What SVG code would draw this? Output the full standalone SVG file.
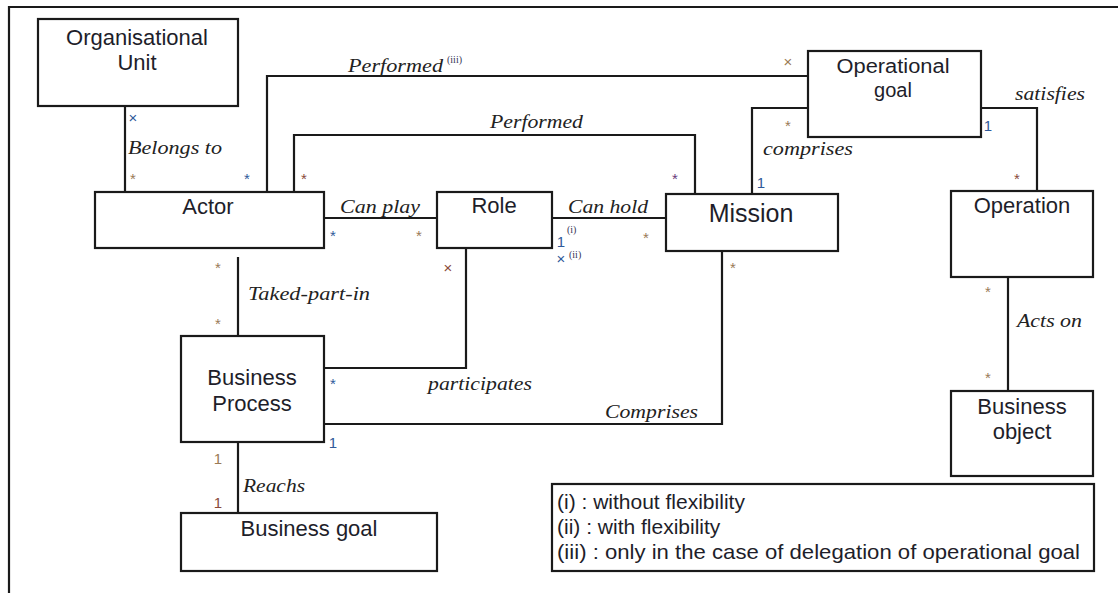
<svg xmlns="http://www.w3.org/2000/svg" width="1118" height="593" viewBox="0 0 1118 593">
  <style>
    .box { fill: #fff; stroke: #1a1a1a; stroke-width: 2.2; }
    .wire { fill: none; stroke: #1a1a1a; stroke-width: 2.2; }
    .name { font-family: "Liberation Sans", Arial, sans-serif; font-size: 22px; fill: #1e1e2a; text-anchor: middle; }
    .lbl { font-family: "Liberation Serif", "Times New Roman", serif; font-style: italic; font-size: 19px; fill: #222; }
    .sup { font-family: "Liberation Serif", "Times New Roman", serif; font-size: 10px; fill: #335; }
    .mk { font-family: "Liberation Sans", Arial, sans-serif; font-size: 15px; text-anchor: middle; }
    .o { fill: #9a7a55; }
    .b { fill: #2f5a9a; }
    .p { fill: #6a3a7a; }
    .r { fill: #8a4a3a; }
    .legend { font-family: "Liberation Sans", Arial, sans-serif; font-size: 21px; fill: #1e1e2a; }
  </style>

  <!-- page frame -->
  <path class="wire" d="M9,593 V7 H1118"/>

  <!-- associations -->
  <g id="connectors">
    <!-- Belongs to -->
    <line class="wire" x1="125" y1="106" x2="125" y2="192"/>
    <text class="lbl" x="128" y="154" textLength="94" lengthAdjust="spacingAndGlyphs">Belongs to</text>
    <text class="mk b" x="133" y="123">×</text>
    <text class="mk o" x="133" y="184">*</text>

    <!-- Performed (iii) : Actor to Operational goal -->
    <path class="wire" d="M267,192 V76 H808"/>
    <text class="lbl" x="348" y="72" textLength="95" lengthAdjust="spacingAndGlyphs">Performed</text>
    <text class="sup" x="447" y="63">(iii)</text>
    <text class="mk b" x="247" y="184">*</text>
    <text class="mk o" x="788" y="67">×</text>

    <!-- Performed : Actor to Mission -->
    <path class="wire" d="M294,192 V135 H695 V194"/>
    <text class="lbl" x="490" y="128" textLength="93" lengthAdjust="spacingAndGlyphs">Performed</text>
    <text class="mk r" x="304" y="184">*</text>
    <text class="mk p" x="675" y="184">*</text>

    <!-- Can play -->
    <line class="wire" x1="324" y1="218" x2="437" y2="218"/>
    <text class="lbl" x="340" y="213" textLength="80" lengthAdjust="spacingAndGlyphs">Can play</text>
    <text class="mk b" x="333" y="241">*</text>
    <text class="mk o" x="419" y="241">*</text>

    <!-- Can hold -->
    <line class="wire" x1="552" y1="218" x2="666" y2="218"/>
    <text class="lbl" x="568" y="213" textLength="80" lengthAdjust="spacingAndGlyphs">Can hold</text>
    <text class="mk b" x="561" y="247">1</text>
    <text class="sup" x="567" y="233">(i)</text>
    <text class="mk b" x="561" y="264">×</text>
    <text class="sup" x="569" y="258">(ii)</text>
    <text class="mk o" x="646" y="243">*</text>

    <!-- comprises : Operational goal to Mission -->
    <path class="wire" d="M808,108 H752 V194"/>
    <text class="lbl" x="763" y="155" textLength="90" lengthAdjust="spacingAndGlyphs">comprises</text>
    <text class="mk o" x="788" y="131">*</text>
    <text class="mk b" x="761" y="188">1</text>

    <!-- satisfies -->
    <path class="wire" d="M981,108 H1037 V191"/>
    <text class="lbl" x="1015" y="100" textLength="70" lengthAdjust="spacingAndGlyphs">satisfies</text>
    <text class="mk b" x="988" y="131">1</text>
    <text class="mk r" x="1017" y="184">*</text>

    <!-- Acts on -->
    <line class="wire" x1="1008" y1="277" x2="1008" y2="391"/>
    <text class="lbl" x="1017" y="327" textLength="65" lengthAdjust="spacingAndGlyphs">Acts on</text>
    <text class="mk o" x="988" y="297">*</text>
    <text class="mk o" x="988" y="383">*</text>

    <!-- Taked-part-in -->
    <line class="wire" x1="238" y1="257" x2="238" y2="336"/>
    <text class="lbl" x="248" y="300" textLength="122" lengthAdjust="spacingAndGlyphs">Taked-part-in</text>
    <text class="mk o" x="218" y="273">*</text>
    <text class="mk o" x="218" y="329">*</text>

    <!-- participates -->
    <path class="wire" d="M466,248 V368 H324"/>
    <text class="lbl" x="428" y="390" textLength="104" lengthAdjust="spacingAndGlyphs">participates</text>
    <text class="mk r" x="448" y="273">×</text>
    <text class="mk b" x="333" y="389">*</text>

    <!-- Comprises : Mission to Business Process -->
    <path class="wire" d="M722,251 V424 H324"/>
    <text class="lbl" x="605" y="418" textLength="93" lengthAdjust="spacingAndGlyphs">Comprises</text>
    <text class="mk o" x="733" y="273">*</text>
    <text class="mk b" x="333" y="448">1</text>

    <!-- Reachs -->
    <line class="wire" x1="238" y1="442" x2="238" y2="513"/>
    <text class="lbl" x="243" y="492" textLength="62" lengthAdjust="spacingAndGlyphs">Reachs</text>
    <text class="mk o" x="218" y="464">1</text>
    <text class="mk r" x="218" y="508">1</text>
  </g>

  <!-- classes -->
  <g id="organisational-unit">
    <rect class="box" x="38" y="19" width="200" height="87"/>
    <text class="name" x="137" y="45">Organisational</text>
    <text class="name" x="137" y="70">Unit</text>
  </g>

  <g id="actor">
    <rect class="box" x="95" y="192" width="229" height="56"/>
    <text class="name" x="208" y="214">Actor</text>
  </g>

  <g id="role">
    <rect class="box" x="437" y="192" width="115" height="56"/>
    <text class="name" x="494" y="213">Role</text>
  </g>

  <g id="mission">
    <rect class="box" x="666" y="194" width="172" height="57"/>
    <text class="name" x="751" y="222" style="font-size:25px">Mission</text>
  </g>

  <g id="operational-goal">
    <rect class="box" x="808" y="51" width="173" height="86"/>
    <text class="name" x="893" y="73" style="font-size:20px" textLength="113" lengthAdjust="spacingAndGlyphs">Operational</text>
    <text class="name" x="893" y="97" style="font-size:20px">goal</text>
  </g>

  <g id="operation">
    <rect class="box" x="951" y="191" width="142" height="86"/>
    <text class="name" x="1022" y="213">Operation</text>
  </g>

  <g id="business-process">
    <rect class="box" x="181" y="336" width="143" height="106"/>
    <text class="name" x="252" y="385">Business</text>
    <text class="name" x="252" y="411">Process</text>
  </g>

  <g id="business-goal">
    <rect class="box" x="181" y="513" width="256" height="58"/>
    <text class="name" x="309" y="536">Business goal</text>
  </g>

  <g id="business-object">
    <rect class="box" x="951" y="391" width="142" height="85"/>
    <text class="name" x="1022" y="414">Business</text>
    <text class="name" x="1022" y="439">object</text>
  </g>

  <!-- notes on the flexibility variants -->
  <g id="legend">
    <rect class="box" x="552" y="484" width="542" height="87"/>
    <text class="legend" x="557" y="509">(i) : without flexibility</text>
    <text class="legend" x="557" y="534">(ii) : with flexibility</text>
    <text class="legend" x="557" y="559" textLength="523" lengthAdjust="spacingAndGlyphs">(iii) : only in the case of delegation of operational goal</text>
  </g>
</svg>
